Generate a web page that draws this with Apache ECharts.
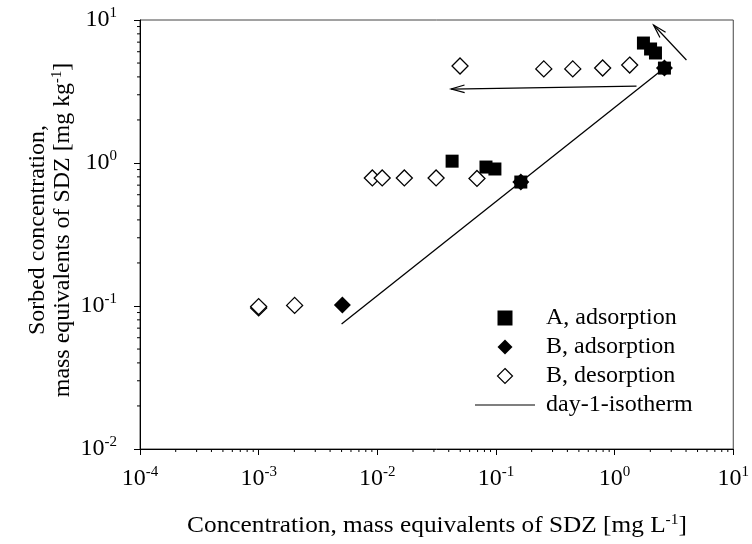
<!DOCTYPE html>
<html>
<head>
<meta charset="utf-8">
<script src="https://cdn.jsdelivr.net/npm/echarts@6/dist/echarts.min.js"></script>
<style>html,body{margin:0;padding:0;background:#fff;}#c{width:752px;height:544px;}</style>
</head>
<body>
<div id="c"></div>
<script>
// ---- data ----
const aAdsX = [0.0427, 0.0824, 0.098, 0.162, 1.75, 2.01, 2.21, 2.63];
const aAdsY = [1.03, 0.937, 0.908, 0.736, 6.9, 6.27, 5.88, 4.61];
const bAdsX = [0.00508, 0.162, 2.63];
const bAdsY = [0.1016, 0.736, 4.61];
const bDesX = [0.001, 0.001, 0.00201, 0.00908, 0.0110, 0.0169, 0.0313, 0.0692, 0.0498, 0.253, 0.444, 0.793, 1.34];
const bDesY = [0.097, 0.099, 0.101, 0.786, 0.786, 0.786, 0.786, 0.78, 4.77, 4.55, 4.55, 4.62, 4.84];
const isoX = [0.005, 2.63];
const isoY = [0.0748, 4.61];
// arrows: tail -> head
const arrowFromX = [1.53, 4.03];
const arrowFromY = [3.45, 5.25];
const arrowToX = [0.0419, 2.13];
const arrowToY = [3.29, 9.23];
const seriesNames = ['A, adsorption', 'B, adsorption', 'B, desorption', 'day-1-isotherm'];
const xTitle = ['Concentration, mass equivalents of SDZ [mg L', '-1', ']'];
const yTitle1 = 'Sorbed concentration,';
const yTitle2 = ['mass equivalents of SDZ [mg kg', '-1', ']'];
const xMin = 1e-4, xMax = 10, yMin = 1e-2, yMax = 10;
const minorMult = [2, 3, 4, 5, 6, 7, 8, 9];
const xDecades = [-4, -3, -2, -1, 0];
const yDecades = [-2, -1, 0];

const zip = (xs, ys) => xs.map((x, i) => [x, ys[i]]);
const xMinor = [];
xDecades.forEach(e => minorMult.forEach(m => xMinor.push([m * Math.pow(10, e), 1])));
const yMinor = [];
yDecades.forEach(e => minorMult.forEach(m => yMinor.push([1, m * Math.pow(10, e)])));
const arrows = arrowFromX.map((x, i) => [x, arrowFromY[i], arrowToX[i], arrowToY[i]]);

const FONT = 'Liberation Serif';
const supRich = {
  b: { fontFamily: FONT, fontSize: 24, color: '#000', lineHeight: 28 },
  s: { fontFamily: FONT, fontSize: 15, color: '#000', verticalAlign: 'top', lineHeight: 28 }
};
const titleRich = {
  b: { fontFamily: FONT, fontSize: 23, color: '#000', lineHeight: 25 },
  s: { fontFamily: FONT, fontSize: 14, color: '#000', verticalAlign: 'top', lineHeight: 25 }
};
function powLabel(v) {
  const e = Math.round(Math.log10(v));
  return '{b|10}{s|' + e + '}';
}

const chart = echarts.init(document.getElementById('c'), null, { renderer: 'canvas' });
chart.setOption({
  animation: false,
  backgroundColor: '#fff',
  grid: { left: 140, right: 17, top: 20, bottom: 95, show: true, borderColor: '#444', borderWidth: 1, backgroundColor: 'transparent' },
  xAxis: {
    type: 'log', logBase: 10, min: xMin, max: xMax,
    axisLine: { show: true, lineStyle: { color: '#000', width: 1 } },
    axisTick: { show: true, inside: false, length: 6, lineStyle: { color: '#000' } },
    splitLine: { show: false },
    axisLabel: { formatter: powLabel, rich: supRich, margin: 16 }
  },
  yAxis: {
    type: 'log', logBase: 10, min: yMin, max: yMax,
    axisLine: { show: true, lineStyle: { color: '#000', width: 1 } },
    axisTick: { show: true, inside: false, length: 6, lineStyle: { color: '#000' } },
    splitLine: { show: false },
    axisLabel: { formatter: powLabel, rich: supRich, margin: 23 }
  },
  legend: {
    orient: 'vertical', left: 470, top: 301, itemWidth: 60, itemHeight: 15, itemGap: 5,
    symbolKeepAspect: true,
    textStyle: { fontFamily: FONT, fontSize: 24, lineHeight: 24, color: '#000', padding: [0, 0, 0, 6] },
    data: [
      { name: seriesNames[0], icon: 'path://M0,0L10,0L10,10L0,10Z', itemStyle: { color: '#000' } },
      { name: seriesNames[1], icon: 'path://M5,0L10,5L5,10L0,5Z', itemStyle: { color: '#000' } },
      { name: seriesNames[2], icon: 'path://M5,0L10,5L5,10L0,5Z', itemStyle: { color: '#fff', borderColor: '#000', borderWidth: 1.2 } },
      { name: seriesNames[3], icon: 'path://M0,0L60,0L60,1.2L0,1.2Z', itemStyle: { color: '#000', borderWidth: 0 } }
    ]
  },
  graphic: [
    {
      type: 'text', x: 437, y: 526, scaleX: 1.1,
      style: {
        text: '{b|' + xTitle[0] + '}{s|' + xTitle[1] + '}{b|' + xTitle[2] + '}',
        rich: titleRich, fill: '#000', align: 'center', verticalAlign: 'middle'
      }
    },
    {
      type: 'text', x: 50, y: 230, rotation: Math.PI / 2, scaleX: 1.04,
      style: {
        text: '{b|' + yTitle1 + '}\n{b|' + yTitle2[0] + '}{s|' + yTitle2[1] + '}{b|' + yTitle2[2] + '}',
        rich: titleRich, fill: '#000', align: 'center', verticalAlign: 'middle'
      }
    }
  ],
  series: [
    {
      name: seriesNames[0], type: 'scatter', symbol: 'rect', symbolSize: 13,
      itemStyle: { color: '#000', opacity: 1 }, data: zip(aAdsX, aAdsY), z: 3
    },
    {
      name: seriesNames[1], type: 'scatter', symbol: 'diamond', symbolSize: 17,
      itemStyle: { color: '#000', opacity: 1 }, data: zip(bAdsX, bAdsY), z: 4
    },
    {
      name: seriesNames[2], type: 'scatter', symbol: 'diamond', symbolSize: 16,
      itemStyle: { color: '#fff', borderColor: '#000', borderWidth: 1.3, opacity: 1 }, data: zip(bDesX, bDesY), z: 4
    },
    {
      name: seriesNames[3], type: 'line', symbol: 'none', showSymbol: false,
      lineStyle: { color: '#000', width: 1.3 }, itemStyle: { color: '#000' },
      data: zip(isoX, isoY), z: 5
    },
    {
      type: 'custom', silent: true, z: 6,
      encode: { x: [0, 2], y: [1, 3] },
      data: arrows,
      renderItem: function (params, api) {
        const p0 = api.coord([api.value(0), api.value(1)]);
        const p1 = api.coord([api.value(2), api.value(3)]);
        const ang = Math.atan2(p1[1] - p0[1], p1[0] - p0[0]);
        const L = 14, a = 0.28;
        const h1 = [p1[0] - L * Math.cos(ang - a), p1[1] - L * Math.sin(ang - a)];
        const h2 = [p1[0] - L * Math.cos(ang + a), p1[1] - L * Math.sin(ang + a)];
        const st = { stroke: '#000', lineWidth: 1.2, fill: null };
        return {
          type: 'group', children: [
            { type: 'line', shape: { x1: p0[0], y1: p0[1], x2: p1[0], y2: p1[1] }, style: st },
            { type: 'polyline', shape: { points: [h1, p1, h2] }, style: st }
          ]
        };
      }
    },
    {
      type: 'custom', silent: true, z: 6, clip: false,
      encode: { x: 0, y: 1 },
      data: xMinor,
      renderItem: function (params, api) {
        const p = api.coord([api.value(0), yMin]);
        return { type: 'line', shape: { x1: p[0], y1: p[1], x2: p[0], y2: p[1] + 3 }, style: { stroke: '#000', lineWidth: 1 } };
      }
    },
    {
      type: 'custom', silent: true, z: 6, clip: false,
      encode: { x: 0, y: 1 },
      data: yMinor,
      renderItem: function (params, api) {
        const p = api.coord([xMin, api.value(1)]);
        return { type: 'line', shape: { x1: p[0], y1: p[1], x2: p[0] - 3, y2: p[1] }, style: { stroke: '#000', lineWidth: 1 } };
      }
    }
  ]
});
</script>
</body>
</html>
